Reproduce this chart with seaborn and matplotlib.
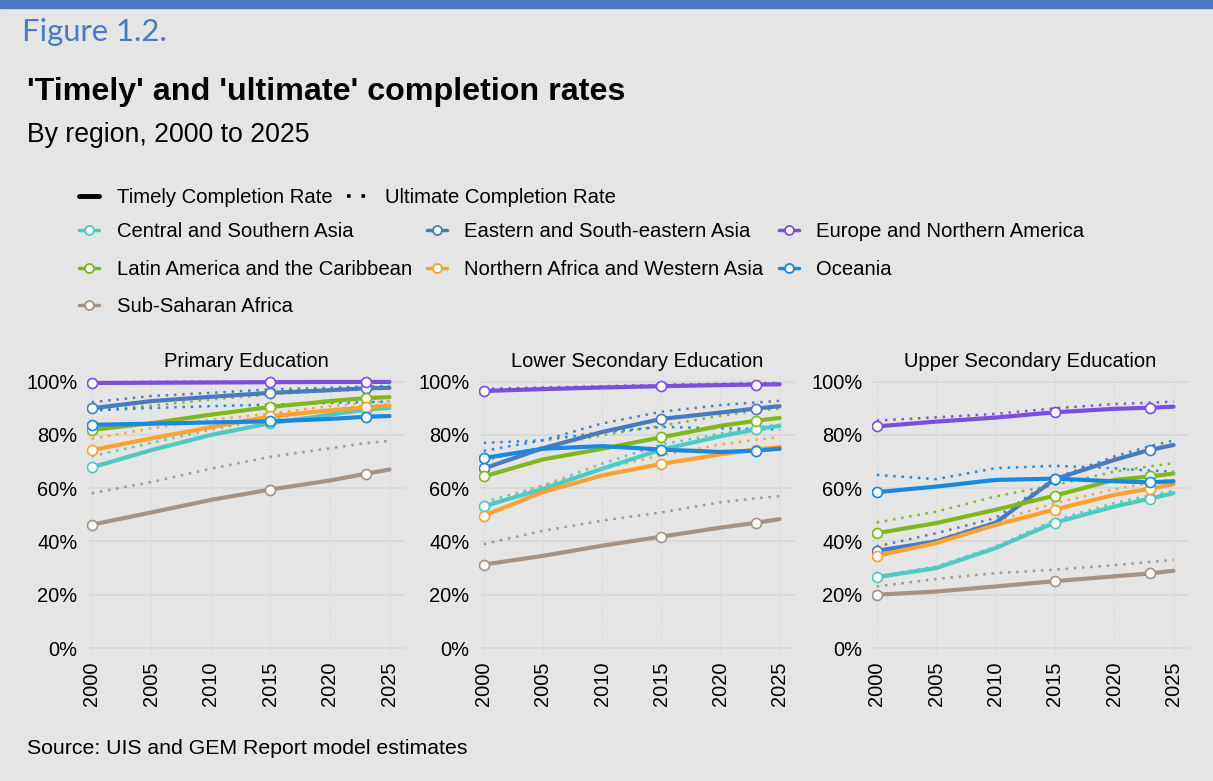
# Timely and ultimate completion rates by region

import pandas as pd
import seaborn as sns
import matplotlib.pyplot as plt
from matplotlib.lines import Line2D
from matplotlib.patches import Rectangle

years = [2000, 2005, 2010, 2015, 2020, 2023, 2025]
marker_years = [2000, 2015, 2023]

regions = ['Central and Southern Asia', 'Eastern and South-eastern Asia',
           'Europe and Northern America', 'Latin America and the Caribbean',
           'Northern Africa and Western Asia', 'Oceania', 'Sub-Saharan Africa']
colors = ['#4fc9c1', '#4a7bbf', '#7b4fd9', '#7fb71d', '#ffa133', '#1888e0', '#a89282']
levels = ['Primary Education', 'Lower Secondary Education', 'Upper Secondary Education']

# one row per region, same order as regions
primary_timely = [
    [67.8, 74.3, 80.0, 84.4, 87.6, 89.5, 90.1],
    [90.0, 92.7, 94.3, 95.8, 96.8, 97.5, 97.7],
    [99.5, 99.6, 99.7, 99.8, 99.9, 99.9, 99.9],
    [81.9, 84.4, 87.6, 90.5, 92.7, 93.8, 94.2],
    [74.3, 78.7, 82.9, 87.0, 89.2, 90.3, 91.0],
    [83.8, 84.2, 84.7, 85.1, 86.0, 86.8, 87.1],
    [46.3, 50.9, 55.6, 59.5, 62.9, 65.4, 67.0],
]
primary_ultimate = [
    [72.0, 77.0, 82.0, 86.0, 89.5, 91.0, 91.5],
    [92.3, 94.6, 95.8, 97.1, 97.7, 98.2, 98.4],
    [99.8, 99.9, 100.0, 100.0, 100.0, 100.0, 100.0],
    [89.1, 91.0, 93.3, 95.2, 96.5, 97.0, 97.3],
    [78.5, 82.5, 85.7, 88.0, 90.8, 92.0, 92.7],
    [89.2, 90.1, 90.8, 91.4, 92.0, 92.3, 92.5],
    [58.1, 62.3, 67.3, 71.8, 75.0, 76.9, 77.8],
]
lower_timely = [
    [53.2, 59.7, 67.3, 74.5, 79.5, 82.1, 83.4],
    [67.4, 75.0, 81.1, 86.0, 88.4, 89.9, 90.8],
    [96.5, 97.2, 97.8, 98.3, 98.7, 98.9, 99.0],
    [64.4, 70.8, 74.8, 79.1, 83.4, 85.3, 86.4],
    [49.7, 58.5, 64.8, 69.1, 72.7, 74.5, 75.5],
    [71.3, 74.8, 75.8, 74.5, 73.6, 74.1, 74.8],
    [31.3, 34.6, 38.4, 41.8, 45.2, 47.0, 48.4],
]
lower_ultimate = [
    [54.7, 61.0, 69.2, 76.4, 80.5, 82.8, 83.9],
    [77.0, 78.0, 84.3, 88.7, 91.2, 92.2, 92.8],
    [97.3, 97.8, 98.3, 98.8, 99.2, 99.4, 99.5],
    [70.4, 75.5, 79.9, 83.4, 87.2, 89.0, 89.9],
    [52.8, 61.0, 67.3, 72.3, 76.4, 78.2, 79.1],
    [74.0, 78.0, 81.0, 83.0, 82.5, 82.2, 82.0],
    [39.0, 44.0, 47.8, 50.9, 54.7, 56.2, 57.0],
]
upper_timely = [
    [26.6, 30.0, 37.5, 47.1, 53.1, 56.1, 58.1],
    [36.5, 40.0, 47.0, 63.4, 70.6, 74.4, 76.2],
    [83.2, 85.0, 86.5, 88.5, 89.8, 90.2, 90.6],
    [43.1, 46.9, 51.9, 57.2, 63.1, 64.4, 65.5],
    [34.6, 39.4, 46.2, 52.0, 57.5, 59.8, 61.5],
    [58.5, 60.6, 63.1, 63.6, 62.6, 62.2, 62.6],
    [20.0, 21.2, 23.1, 25.1, 26.9, 28.0, 29.0],
]
upper_ultimate = [
    [26.9, 30.6, 38.1, 48.1, 54.4, 57.3, 59.1],
    [38.1, 43.1, 48.8, 63.8, 71.9, 75.8, 77.9],
    [85.4, 86.6, 87.9, 90.0, 91.6, 92.1, 92.5],
    [47.1, 51.2, 56.9, 61.2, 66.2, 68.2, 69.4],
    [36.2, 40.6, 47.5, 54.4, 59.6, 62.0, 63.4],
    [65.0, 63.4, 67.5, 68.4, 67.5, 66.6, 66.2],
    [23.1, 25.9, 28.1, 29.4, 31.1, 32.3, 33.1],
]

timely = [primary_timely, lower_timely, upper_timely]
ultimate = [primary_ultimate, lower_ultimate, upper_ultimate]


def to_long(rows):
    recs = []
    for reg, vals in zip(regions, rows):
        for yr, v in zip(years, vals):
            recs.append({'region': reg, 'year': yr, 'value': v})
    return pd.DataFrame(recs)


bg = '#e5e5e5'
sns.set_style('white', rc={'axes.facecolor': bg, 'figure.facecolor': bg})
plt.rcParams['font.family'] = ['Liberation Sans', 'DejaVu Sans']
plt.rcParams['text.color'] = 'black'
plt.rcParams['xtick.color'] = 'black'
plt.rcParams['ytick.color'] = 'black'
plt.rcParams['axes.titlecolor'] = 'black'
palette = dict(zip(regions, colors))

W, H = 1213, 781
fig = plt.figure(figsize=(W / 100, H / 100), dpi=100)
fig.patches.append(Rectangle((0, 1 - 8 / H), 1, 8 / H, transform=fig.transFigure,
                             color='#4a7bbf', zorder=0))

ax_px = [(87, 405), (479, 795), (872, 1189)]
top, bottom = 371, 656

for i, level in enumerate(levels):
    l, r = ax_px[i]
    ax = fig.add_axes([l / W, 1 - bottom / H, (r - l) / W, (bottom - top) / H])
    dfu = to_long(ultimate[i])
    dft = to_long(timely[i])

    sns.lineplot(data=dfu, x='year', y='value', hue='region', hue_order=regions,
                 palette=palette, linewidth=1.8, linestyle=(0, (1, 2.3)),
                 legend=False, ax=ax, zorder=2, alpha=0.95)
    sns.lineplot(data=dft, x='year', y='value', hue='region', hue_order=regions,
                 palette=palette, linewidth=3.0, legend=False, ax=ax, zorder=3)
    pts = dft[dft['year'].isin(marker_years)]
    for reg, c in zip(regions, colors):
        sns.scatterplot(data=pts[pts['region'] == reg], x='year', y='value',
                        color='white', edgecolor=c, linewidth=1.2, s=52,
                        ax=ax, zorder=4, legend=False)

    ax.set_xlim(1999.6, 2026.3)
    ax.set_ylim(-3, 104)
    ax.set_yticks(range(0, 101, 20))
    ax.set_yticklabels([f'{v}%' for v in range(0, 101, 20)])
    ax.set_xticks(range(2000, 2026, 5))
    ax.tick_params(axis='x', labelrotation=90, length=0, labelsize=14.4, pad=4)
    ax.tick_params(axis='y', length=0, labelsize=14.4, pad=7)
    ax.grid(axis='y', color='#d7d7d7', linewidth=1.2)
    ax.grid(axis='x', color='#d2d2d2', linewidth=0.8, linestyle=':')
    ax.set_axisbelow(True)
    for s in ax.spines.values():
        s.set_visible(False)
    ax.set_xlabel('')
    ax.set_ylabel('')
    ax.set_title(level, fontsize=14.5, pad=3)

# legends
style_handles = [Line2D([0], [0], color='black', linewidth=3.5),
                 Line2D([0], [0], color='black', linewidth=2.6, linestyle=(0, (1, 3)))]
fig.legend(style_handles, ['Timely Completion Rate', 'Ultimate Completion Rate'],
           loc='upper left', bbox_to_anchor=(79 / W, 1 - 188 / H), ncol=2,
           frameon=False, fontsize=14.6, handlelength=1.0, handletextpad=0.85,
           columnspacing=0.75, borderpad=0, borderaxespad=0)

reg_handles = [Line2D([0], [0], color=c, linewidth=2.5, marker='o', markersize=6.5,
                      markerfacecolor='white', markeredgecolor=c, markeredgewidth=1.3)
               for c in colors]
# matplotlib fills legend columns first, reorder so rows read like the original
order = [0, 3, 6, 1, 4, 2, 5]
fig.legend([reg_handles[k] for k in order], [regions[k] for k in order],
           loc='upper left', bbox_to_anchor=(79 / W, 1 - 222 / H),
           ncol=3, frameon=False, fontsize=14.6, handlelength=1.0, handletextpad=0.85,
           columnspacing=0.75, labelspacing=0.92, borderpad=0, borderaxespad=0)

fig.text(22 / W, 1 - 32 / H, 'Figure 1.2.', color='#4a7bbf', fontsize=22.3,
         family=['Lato', 'DejaVu Sans'], va='center')
fig.text(27 / W, 1 - 92 / H, "'Timely' and 'ultimate' completion rates", fontsize=23.2,
         weight='bold', va='center')
fig.text(27 / W, 1 - 135 / H, 'By region, 2000 to 2025', fontsize=19.2, va='center')
fig.text(27 / W, 1 - 748 / H, 'Source: UIS and GEM Report model estimates', fontsize=15.3,
         va='center')

fig.savefig('out.png', dpi=100, facecolor=bg)
